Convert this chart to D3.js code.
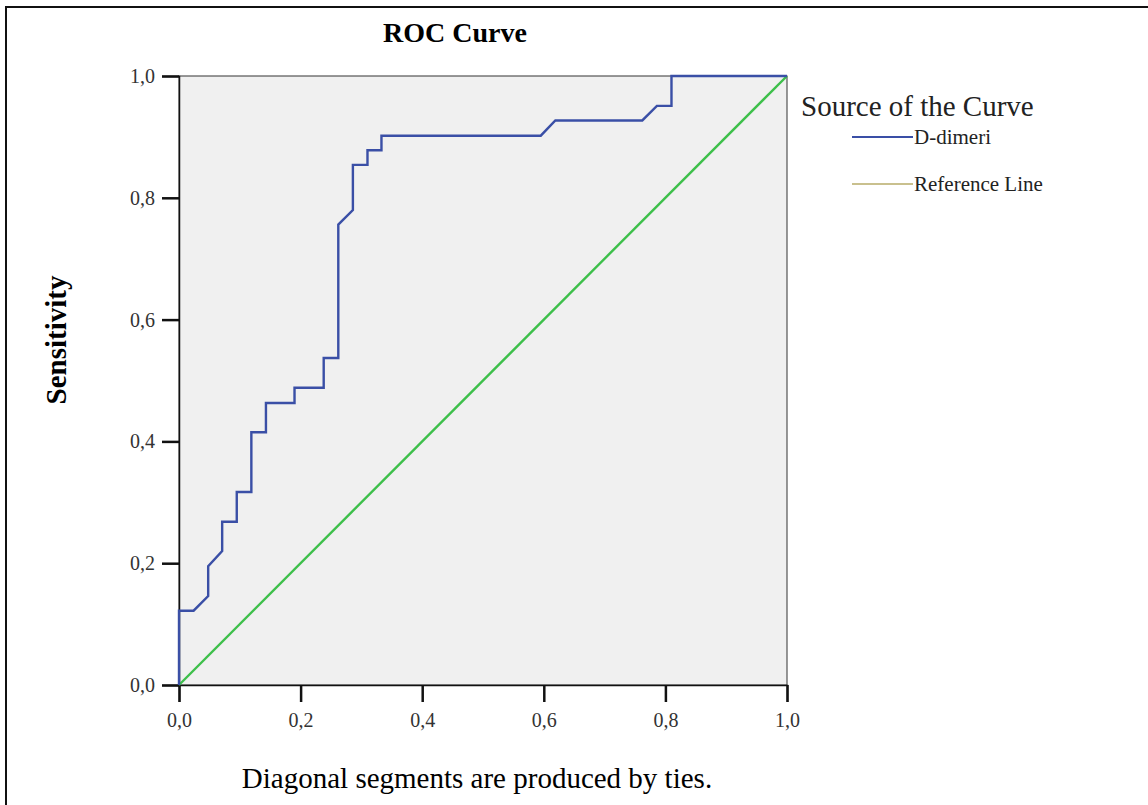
<!DOCTYPE html>
<html>
<head>
<meta charset="utf-8">
<script src="https://cdn.jsdelivr.net/npm/d3@7"></script>
<style>
  body { margin: 0; background: #fff; }
  svg text { font-family: "Liberation Serif", "Times New Roman", serif; }
</style>
</head>
<body>
<script>
// ROC points for D-dimeri (1 - specificity, sensitivity)
const fpr = [0, 0, 0.024, 0.048, 0.048, 0.071, 0.071, 0.095, 0.095, 0.119, 0.119, 0.143, 0.143,
  0.190, 0.190, 0.238, 0.238, 0.262, 0.262, 0.286, 0.286, 0.310, 0.310, 0.333, 0.333,
  0.595, 0.619, 0.762, 0.786, 0.810, 0.810, 1];
const tpr = [0, 0.122, 0.122, 0.146, 0.195, 0.220, 0.268, 0.268, 0.317, 0.317, 0.415, 0.415, 0.463,
  0.463, 0.488, 0.488, 0.537, 0.537, 0.756, 0.780, 0.854, 0.854, 0.878, 0.878, 0.902,
  0.902, 0.927, 0.927, 0.951, 0.951, 1, 1];
const refLine = [[0, 0], [1, 1]];
const ticks = [0, 0.2, 0.4, 0.6, 0.8, 1.0];
const legendItems = ["D-dimeri", "Reference Line"];
const colors = ["#3a4fa6", "#c9c08e"];

const w = 1148, h = 805;
const svg = d3.select("body").append("svg")
  .attr("width", w).attr("height", h);

// outer frame
svg.append("rect")
  .attr("x", 6).attr("y", 7).attr("width", w + 10).attr("height", h + 10)
  .attr("fill", "none").attr("stroke", "#111").attr("stroke-width", 2);

const x = d3.scaleLinear().domain([0, 1]).range([179, 787]);
const y = d3.scaleLinear().domain([0, 1]).range([685, 76]);

svg.append("rect")
  .attr("x", x(0)).attr("y", y(1))
  .attr("width", x(1) - x(0)).attr("height", y(0) - y(1))
  .attr("fill", "#f0f0f0").attr("stroke", "#333").attr("stroke-width", 1);

const fmt = d => d3.format(".1f")(d).replace(".", ",");

const xAxis = svg.append("g")
  .attr("transform", `translate(0,${y(0)})`)
  .call(d3.axisBottom(x).tickValues(ticks).tickFormat(fmt).tickSize(17).tickPadding(11));
const yAxis = svg.append("g")
  .attr("transform", `translate(${x(0)},0)`)
  .call(d3.axisLeft(y).tickValues(ticks).tickFormat(fmt).tickSize(17).tickPadding(7));

[xAxis, yAxis].forEach(a => {
  a.select(".domain").attr("stroke", "#111").attr("stroke-width", 1.5);
  a.selectAll(".tick line").attr("stroke", "#111").attr("stroke-width", 2.5);
  a.selectAll(".tick text")
    .attr("fill", "#333")
    .style("font-family", '"Liberation Serif", serif')
    .style("font-size", "20px");
});

// reference line
svg.append("path")
  .datum(refLine)
  .attr("d", d3.line().x(d => x(d[0])).y(d => y(d[1])))
  .attr("fill", "none").attr("stroke", "#3dbf4a").attr("stroke-width", 2.4);

// ROC curve
svg.append("path")
  .datum(d3.zip(fpr, tpr))
  .attr("d", d3.line().x(d => x(d[0])).y(d => y(d[1])))
  .attr("fill", "none").attr("stroke", colors[0]).attr("stroke-width", 2.4);

// title
svg.append("text")
  .attr("x", 455).attr("y", 42)
  .attr("text-anchor", "middle")
  .style("font-size", "28px").style("font-weight", "bold")
  .text("ROC Curve");

// y label
svg.append("text")
  .attr("transform", "translate(66,340) rotate(-90)")
  .attr("text-anchor", "middle")
  .style("font-size", "29px").style("font-weight", "bold")
  .text("Sensitivity");

// legend
svg.append("text")
  .attr("x", 801).attr("y", 116)
  .style("font-size", "29px")
  .attr("fill", "#222")
  .text("Source of the Curve");

const leg = svg.selectAll(".leg")
  .data(legendItems)
  .join("g")
  .attr("class", "leg")
  .attr("transform", (d, i) => `translate(852,${137 + i * 47})`);
leg.append("line")
  .attr("x1", 0).attr("x2", 61)
  .attr("stroke", (d, i) => colors[i]).attr("stroke-width", 2.2);
leg.append("text")
  .attr("x", 62).attr("y", 7)
  .style("font-size", "21px")
  .attr("fill", "#222")
  .text(d => d);

// footnote
svg.append("text")
  .attr("x", 477).attr("y", 788)
  .attr("text-anchor", "middle")
  .style("font-size", "29px")
  .text("Diagonal segments are produced by ties.");
</script>
</body>
</html>
